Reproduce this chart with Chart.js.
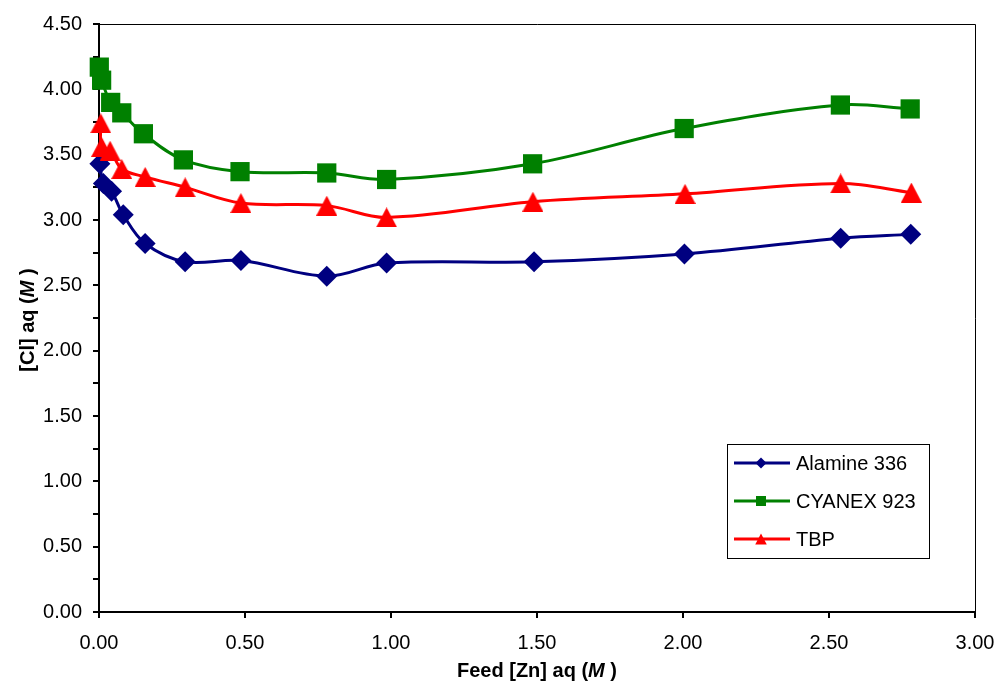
<!DOCTYPE html>
<html>
<head>
<meta charset="utf-8">
<title>[Cl] aq vs Feed [Zn] aq</title>
<script src="https://cdn.jsdelivr.net/npm/chart.js@4.4.1/dist/chart.umd.min.js"></script>
<style>
    html, body { margin: 0; padding: 0; background: #fff; }
    #wrap { width: 999px; height: 682px; position: relative; }
</style>
</head>
<body>
<div id="wrap"><canvas id="chart"></canvas></div>
<script>
// values
var seriesNames = ['Alamine 336', 'CYANEX 923', 'TBP'];
var znAlamine = [0.003, 0.015, 0.043, 0.083, 0.158, 0.295, 0.486, 0.78, 0.985, 1.49, 2.005, 2.54, 2.78];
var clAlamine = [3.43, 3.28, 3.22, 3.04, 2.82, 2.68, 2.69, 2.57, 2.67, 2.68, 2.74, 2.86, 2.89];
var znCyanex = [0.001, 0.009, 0.040, 0.078, 0.152, 0.289, 0.483, 0.78, 0.985, 1.485, 2.004, 2.539, 2.778];
var clCyanex = [4.17, 4.07, 3.90, 3.82, 3.66, 3.46, 3.37, 3.36, 3.31, 3.43, 3.70, 3.88, 3.85];
var znTbp = [0.006, 0.009, 0.038, 0.078, 0.158, 0.295, 0.486, 0.78, 0.985, 1.486, 2.007, 2.54, 2.782];
var clTbp = [3.74, 3.56, 3.53, 3.39, 3.33, 3.25, 3.13, 3.11, 3.02, 3.14, 3.20, 3.28, 3.21];
var xTicks = [0, 0.5, 1, 1.5, 2, 2.5, 3];
var yTicks = [0, 0.5, 1, 1.5, 2, 2.5, 3, 3.5, 4, 4.5];

var NAVY = '#000080', GREEN = '#008000', RED = '#ff0000';
var FONT = 'Arial, "Liberation Sans", sans-serif';

function pairs(xs, ys) {
    return xs.map(function(x, i) { return { x: x, y: ys[i] }; });
}

// triangle marker centred on its box, like the spreadsheet one
function triangleMarker(w, h, color) {
    var c = document.createElement('canvas');
    c.width = w;
    c.height = h;
    var g = c.getContext('2d');
    g.fillStyle = color;
    g.beginPath();
    g.moveTo(w / 2, 0);
    g.lineTo(w, h);
    g.lineTo(0, h);
    g.closePath();
    g.fill();
    return c;
}

function drawMarker(ctx, kind, x, y, s, color) {
    ctx.fillStyle = color;
    ctx.beginPath();
    if (kind === 'diamond') {
        ctx.moveTo(x, y - s);
        ctx.lineTo(x + s, y);
        ctx.lineTo(x, y + s);
        ctx.lineTo(x - s, y);
    } else if (kind === 'square') {
        ctx.rect(x - s, y - s, 2 * s, 2 * s);
    } else {
        ctx.moveTo(x, y - s);
        ctx.lineTo(x + s * 1.05, y + s);
        ctx.lineTo(x - s * 1.05, y + s);
    }
    ctx.closePath();
    ctx.fill();
}

function drawMixed(ctx, parts, x, y) {
    // parts: [text, italic]
    var total = 0;
    parts.forEach(function(p) {
        ctx.font = (p[1] ? 'italic ' : '') + 'bold 20px ' + FONT;
        total += ctx.measureText(p[0]).width;
    });
    var cx = x - total / 2;
    parts.forEach(function(p) {
        ctx.font = (p[1] ? 'italic ' : '') + 'bold 20px ' + FONT;
        ctx.fillText(p[0], cx, y);
        cx += ctx.measureText(p[0]).width;
    });
}

var decorations = {
    id: 'decorations',
    afterDraw: function(chart) {
        var ctx = chart.ctx;
        var area = chart.chartArea;
        ctx.save();

        // top and right edges of the plot frame
        ctx.strokeStyle = '#000';
        ctx.lineWidth = 1;
        ctx.beginPath();
        ctx.moveTo(area.left, area.top + 0.5);
        ctx.lineTo(area.right + 0.5, area.top + 0.5);
        ctx.lineTo(area.right + 0.5, area.bottom);
        ctx.stroke();

        // axis titles
        ctx.fillStyle = '#000';
        ctx.textAlign = 'left';
        ctx.textBaseline = 'middle';
        drawMixed(ctx, [['Feed [Zn] aq (', false], ['M', true], [' )', false]], (area.left + area.right) / 2, 671);
        ctx.save();
        ctx.translate(28, (area.top + area.bottom) / 2 + 2);
        ctx.rotate(-Math.PI / 2);
        drawMixed(ctx, [['[Cl] aq (', false], ['M', true], [' )', false]], 0, 0);
        ctx.restore();

        // legend
        var bx = 727, by = 444, bw = 202, bh = 114;
        ctx.fillStyle = '#fff';
        ctx.fillRect(bx, by, bw, bh);
        ctx.strokeStyle = '#000';
        ctx.lineWidth = 1;
        ctx.strokeRect(bx + 0.5, by + 0.5, bw, bh);
        var kinds = ['diamond', 'square', 'triangle'];
        var colors = [NAVY, GREEN, RED];
        ctx.font = '20px ' + FONT;
        ctx.textBaseline = 'middle';
        seriesNames.forEach(function(name, i) {
            var ry = 463 + i * 38;
            ctx.strokeStyle = colors[i];
            ctx.lineWidth = 3;
            ctx.beginPath();
            ctx.moveTo(734, ry);
            ctx.lineTo(790, ry);
            ctx.stroke();
            drawMarker(ctx, kinds[i], 761, ry, i === 1 ? 5 : 5.5, colors[i]);
            ctx.fillStyle = '#000';
            ctx.fillText(name, 796, ry + 1);
        });
        ctx.restore();
    }
};

var common = {
    showLine: true,
    borderWidth: 3,
    tension: 0.35,
    clip: false,
    pointBorderWidth: 0
};

var datasets = [
    Object.assign({
        label: seriesNames[0],
        data: pairs(znAlamine, clAlamine),
        borderColor: NAVY,
        backgroundColor: NAVY,
        pointStyle: 'rectRot',
        pointRadius: 10.5,
        order: 2
    }, common),
    Object.assign({
        label: seriesNames[1],
        data: pairs(znCyanex, clCyanex),
        borderColor: GREEN,
        backgroundColor: GREEN,
        pointStyle: 'rect',
        pointRadius: 13.6,
        order: 1
    }, common),
    Object.assign({
        label: seriesNames[2],
        data: pairs(znTbp, clTbp),
        borderColor: RED,
        backgroundColor: RED,
        pointStyle: triangleMarker(21, 20, RED),
        pointRadius: 10,
        order: 0
    }, common)
];

var ctx = document.getElementById('chart').getContext('2d');
var chart = new Chart(ctx, {
    type: 'scatter',
    data: { datasets: datasets },
    options: {
        responsive: true,
        maintainAspectRatio: false,
        animation: false,
        events: [],
        layout: { padding: { left: 0, right: 24, top: 24, bottom: 0 } },
        plugins: {
            legend: { display: false },
            tooltip: { enabled: false }
        },
        scales: {
            x: {
                type: 'linear',
                min: xTicks[0],
                max: xTicks[xTicks.length - 1],
                afterBuildTicks: function(scale) {
                    scale.ticks = xTicks.map(function(v) { return { value: v }; });
                },
                afterFit: function(scale) {
                    scale.height = 70;
                    scale.paddingLeft = 0;
                    scale.paddingRight = 0;
                },
                ticks: {
                    autoSkip: false,
                    maxRotation: 0,
                    padding: 13,
                    color: '#000',
                    font: { family: FONT, size: 20 },
                    callback: function(v) { return v.toFixed(2); }
                },
                grid: { drawOnChartArea: false, tickLength: 6, tickColor: '#000', lineWidth: 2 },
                border: { color: '#000', width: 2 }
            },
            y: {
                type: 'linear',
                min: yTicks[0],
                max: yTicks[yTicks.length - 1],
                afterBuildTicks: function(scale) {
                    // a tick mark every 0.25, a label every 0.5
                    var list = [];
                    yTicks.forEach(function(v, i) {
                        list.push({ value: v });
                        if (i < yTicks.length - 1) list.push({ value: (v + yTicks[i + 1]) / 2 });
                    });
                    scale.ticks = list;
                },
                afterFit: function(scale) {
                    scale.width = 99;
                    scale.paddingTop = 0;
                    scale.paddingBottom = 0;
                },
                ticks: {
                    autoSkip: false,
                    padding: 11,
                    color: '#000',
                    font: { family: FONT, size: 20 },
                    callback: function(v) {
                        return yTicks.indexOf(v) >= 0 ? v.toFixed(2) : '';
                    }
                },
                grid: { drawOnChartArea: false, tickLength: 6, tickColor: '#000', lineWidth: 2 },
                border: { color: '#000', width: 2 }
            }
        }
    },
    plugins: [decorations]
});
</script>
</body>
</html>
